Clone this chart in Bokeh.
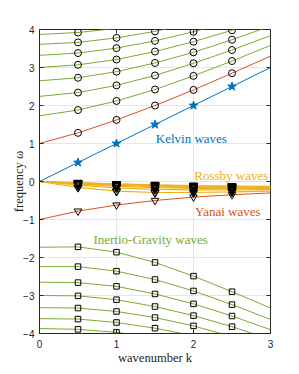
import math
from bokeh.plotting import figure
from bokeh.models import Range1d, FixedTicker
from bokeh.core.properties import value
from bokeh.embed import file_html
from bokeh.resources import INLINE

# wavenumber samples
k = [0.0, 0.5, 1.0, 1.5, 2.0, 2.5, 3.0]
x_ticks = [0, 1, 2, 3]
y_ticks = [-4, -3, -2, -1, 0, 1, 2, 3, 4]

kelvin = [0.0, 0.5, 1.0, 1.5, 2.0, 2.5, 3.0]
yanai_pos = [1.00, 1.28, 1.62, 2.00, 2.41, 2.85, 3.30]
yanai_neg = [-1.00, -0.78, -0.62, -0.50, -0.41, -0.35, -0.30]

ig_pos_n1 = [1.73, 1.88, 2.12, 2.42, 2.78, 3.17, 3.58]
ig_pos_n2 = [2.24, 2.34, 2.53, 2.79, 3.11, 3.46, 3.84]
ig_pos_n3 = [2.65, 2.73, 2.89, 3.12, 3.40, 3.73, 4.09]
ig_pos_n4 = [3.00, 3.07, 3.21, 3.42, 3.68, 3.98, 4.32]
ig_pos_n5 = [3.32, 3.38, 3.51, 3.70, 3.94, 4.22, 4.55]
ig_pos_n6 = [3.61, 3.66, 3.78, 3.95, 4.18, 4.45, 4.76]
ig_pos_n7 = [3.87, 3.92, 4.03, 4.20, 4.41, 4.67, 4.96]

ig_neg_n1 = [-1.73, -1.72, -1.86, -2.13, -2.49, -2.90, -3.33]
ig_neg_n2 = [-2.24, -2.24, -2.36, -2.58, -2.88, -3.24, -3.63]
ig_neg_n3 = [-2.65, -2.66, -2.76, -2.96, -3.22, -3.54, -3.90]
ig_neg_n4 = [-3.00, -3.01, -3.11, -3.29, -3.53, -3.82, -4.16]
ig_neg_n5 = [-3.32, -3.33, -3.42, -3.58, -3.80, -4.08, -4.40]
ig_neg_n6 = [-3.61, -3.62, -3.71, -3.86, -4.06, -4.32, -4.62]
ig_neg_n7 = [-3.87, -3.89, -3.97, -4.11, -4.31, -4.55, -4.84]

rossby_n1 = [0.0, -0.155, -0.254, -0.290, -0.289, -0.272, -0.251]
rossby_n2 = [0.0, -0.095, -0.167, -0.208, -0.223, -0.223, -0.215]
rossby_n3 = [0.0, -0.069, -0.125, -0.163, -0.182, -0.189, -0.188]
rossby_n4 = [0.0, -0.054, -0.100, -0.134, -0.154, -0.164, -0.167]
rossby_n5 = [0.0, -0.044, -0.083, -0.113, -0.133, -0.145, -0.150]
rossby_n6 = [0.0, -0.038, -0.071, -0.098, -0.118, -0.130, -0.136]
rossby_n7 = [0.0, -0.033, -0.063, -0.087, -0.105, -0.118, -0.125]

ig_pos = [ig_pos_n1, ig_pos_n2, ig_pos_n3, ig_pos_n4, ig_pos_n5, ig_pos_n6, ig_pos_n7]
ig_neg = [ig_neg_n1, ig_neg_n2, ig_neg_n3, ig_neg_n4, ig_neg_n5, ig_neg_n6, ig_neg_n7]
rossby = [rossby_n1, rossby_n2, rossby_n3, rossby_n4, rossby_n5, rossby_n6, rossby_n7]

BLUE = "#0072BD"
RED = "#D95319"
YEL = "#EDB120"
GRN = "#77AC30"
AX = "#262626"
SERIF = "Liberation Serif"
SANS = "Liberation Sans"

p = figure(frame_width=231, frame_height=304, x_range=Range1d(0, 3), y_range=Range1d(-4, 4),
           output_backend="svg", toolbar_location=None,
           min_border_left=39, min_border_right=20, min_border_top=29, min_border_bottom=10)
p.background_fill_color = "white"
p.border_fill_color = "white"
p.outline_line_color = AX
p.outline_line_width = 1


def markers(vals):
    xs, ys = [], []
    for kk, v in zip(k[1:6], vals[1:6]):
        if -4.0 <= v <= 4.0:
            xs.append(kk)
            ys.append(v)
    return xs, ys


# lines
for c in rossby:
    p.line(k, c, line_color=YEL, line_width=1.2)
for c in ig_pos + ig_neg:
    p.line(k, c, line_color=GRN, line_width=1)
p.line(k, yanai_pos, line_color=RED, line_width=1)
p.line(k, yanai_neg, line_color=RED, line_width=1)
p.line(k, kelvin, line_color=BLUE, line_width=1)

# markers
for c in ig_pos + [yanai_pos]:
    xs, ys = markers(c)
    p.scatter(xs, ys, marker="circle", size=7, fill_color=None, line_color="black", line_width=1)
for c in ig_neg:
    xs, ys = markers(c)
    p.scatter(xs, ys, marker="square", size=5.5, fill_color=None, line_color="black", line_width=1)
xs, ys = markers(yanai_neg)
p.scatter(xs, ys, marker="inverted_triangle", size=7.5, fill_color=None, line_color="black", line_width=1)
for c in rossby:
    xs, ys = markers(c)
    p.scatter(xs, ys, marker="inverted_triangle", size=8, fill_color=None, line_color="black", line_width=1.3)
xs, ys = markers(kelvin)
p.scatter(xs, ys, marker="star", size=9, fill_color=BLUE, line_color=BLUE, line_width=1)

# labels
p.text(x=[1.51], y=[1.12], text=["Kelvin waves"], text_color=BLUE, text_font=value(SERIF),
       text_font_size="13px", text_baseline="alphabetic", text_align="left")
p.text(x=[2.01], y=[0.15], text=["Rossby waves"], text_color=YEL, text_font=value(SERIF),
       text_font_size="13px", text_baseline="alphabetic", text_align="left")
p.text(x=[2.02], y=[-0.79], text=["Yanai waves"], text_color=RED, text_font=value(SERIF),
       text_font_size="13px", text_baseline="alphabetic", text_align="left")
p.text(x=[0.70], y=[-1.53], text=["Inertio-Gravity waves"], text_color=GRN, text_font=value(SERIF),
       text_font_size="13px", text_baseline="alphabetic", text_align="left")

# mirrored inward ticks on the right and top edges (half of each dash is clipped by the frame)
p.scatter([3] * len(y_ticks), y_ticks, marker="dash", size=8, line_color=AX, line_width=1)
p.scatter(x_ticks, [4] * len(x_ticks), marker="dash", size=8, angle=math.pi / 2,
          line_color=AX, line_width=1)

# axes
p.xaxis.ticker = FixedTicker(ticks=x_ticks)
p.yaxis.ticker = FixedTicker(ticks=y_ticks)
for ax in [p.xaxis[0], p.yaxis[0]]:
    ax.major_tick_in = 4
    ax.major_tick_out = 0
    ax.minor_tick_line_color = None
    ax.axis_line_color = AX
    ax.major_tick_line_color = AX
    ax.major_label_text_font = SANS
    ax.major_label_text_font_size = "10px"
    ax.major_label_text_color = AX
    ax.axis_label_text_font = SERIF
    ax.axis_label_text_font_size = "12.5px"
    ax.axis_label_text_font_style = "normal"
    ax.axis_label_text_color = AX
p.xaxis.axis_label = "wavenumber k"
p.yaxis.axis_label = "frequency ω"
p.xaxis.major_label_standoff = 6
p.xaxis.axis_label_standoff = 0
p.yaxis.major_label_standoff = 5
p.yaxis.axis_label_standoff = -6

p.grid.grid_line_color = "#e6e6e6"
p.grid.grid_line_width = 1

open("out.html", "w").write(file_html(p, INLINE))
